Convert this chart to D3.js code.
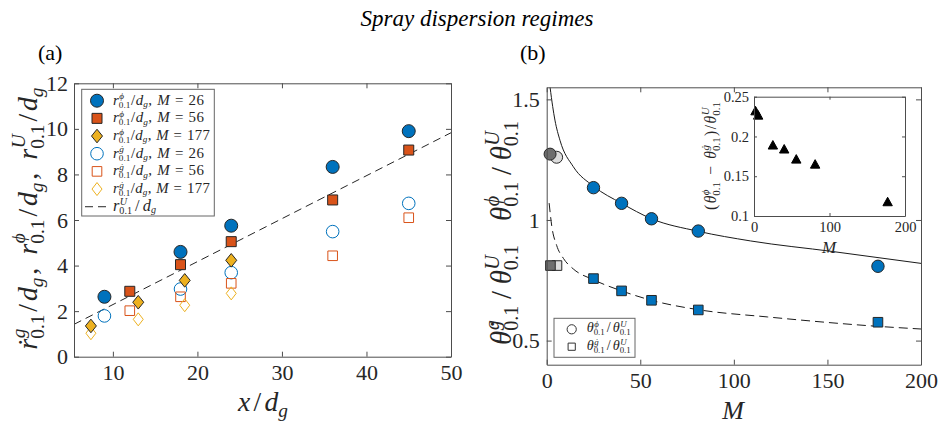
<!DOCTYPE html>
<html>
<head>
<meta charset="utf-8">
<script src="https://cdn.jsdelivr.net/npm/d3@7"></script>
<style>
  body { margin: 0; background: #fff; }
  svg { display: block; }
  text { font-family: "Liberation Serif", "Times New Roman", serif; }
</style>
</head>
<body>
<svg id="chart" width="943" height="425"></svg>
<script>
// ---------- data, panel (a): spreading radius vs x/d_g
const xM26 = [9, 18, 24, 36, 45];
const rPhiM26 = [2.63, 4.6, 5.75, 8.33, 9.9];
const rGM26 = [1.79, 2.97, 3.69, 5.49, 6.73];
const xM56 = [12, 18, 24, 36, 45];
const rPhiM56 = [2.87, 4.04, 5.05, 6.88, 9.07];
const rGM56 = [2.02, 2.63, 3.22, 4.43, 6.1];
const xM177 = [7.4, 13, 18.5, 24];
const rPhiM177 = [1.35, 2.39, 3.35, 4.23];
const rGM177 = [1.03, 1.64, 2.26, 2.78];
const rUx = [5.4, 50];
const rUy = [1.42, 9.83];
const xTicksA = [10, 20, 30, 40, 50];
const yTicksA = [0, 2, 4, 6, 8, 10, 12];

// ---------- data, panel (b): spreading angle vs M
const mB = [25, 40, 56, 81, 177];
const thPhi = [1.134, 1.069, 1.005, 0.954, 0.808];
const thG = [0.757, 0.706, 0.667, 0.627, 0.576];
const mGrayC = [5.3, 1.8];          // light, dark
const thPhiGray = [1.26, 1.273];
const mGrayS = [5.5, 2];
const thGGray = [0.811, 0.811];
const grayFill = ['#dcdcdc', '#6e6e6e'];
const fitPhiM = [1.8, 3.2, 4.4, 7.1, 14.2, 25, 40, 56, 81, 109, 153, 200];
const fitPhiY = [1.55, 1.47, 1.414, 1.33, 1.221, 1.14, 1.069, 1.005, 0.953, 0.913, 0.869, 0.82];
const fitGM = [1.3, 2.7, 5.3, 9, 14.2, 25, 40, 56, 81, 118, 177, 200];
const fitGY = [1.07, 0.975, 0.895, 0.84, 0.797, 0.752, 0.706, 0.667, 0.628, 0.598, 0.559, 0.548];
const xTicksB = [0, 50, 100, 150, 200];
const yTicksB = [0.5, 1, 1.5];

// inset
const mIn = [2, 5.5, 25, 40, 56, 81, 177];
const dIn = [0.232, 0.2266, 0.189, 0.184, 0.1713, 0.165, 0.1177];
const xTicksIn = [0, 100, 200];
const yTicksIn = [0.1, 0.15, 0.2, 0.25];

const BLUE = '#0072BD', ORANGE = '#D95319', YELLOW = '#EDB120';
const AXC = '#4d4d4d', TXT = '#262626', EDGE = '#262626';

const svg = d3.select('#chart');

// ---------- small TeX-like text helper
function parseTex(s) {
  const out = [];
  for (let i = 0; i < s.length; i++) {
    const c = s[i];
    if (c === '^' || c === '_') {
      const j = s.indexOf('}', i);
      out[out.length - 1][c === '^' ? 'sup' : 'sub'] = s.slice(i + 2, j);
      i = j;
    } else if (c === '\u0307') {
      out[out.length - 1].b += c;
    } else out.push({ b: c });
  }
  return out;
}
const isLetter = c => /[A-Za-z\u0370-\u03ff\u0121]/.test(c);

function tex(parent, s, o) {
  const g = parent.append('g')
    .attr('transform', `translate(${o.x},${o.y})` + (o.rotate ? ` rotate(${o.rotate})` : ''));
  const toks = parseTex(s);
  const sr = o.ss || 0.7, up = o.up || 0.42, dn = o.dn || 0.25;
  const build = (size, extra) => {
    g.selectAll('*').remove();
    const t = g.append('text').attr('fill', o.color || TXT);
    const piece = (str, px, py, fs) => {
      if (str === ' ') return fs * 0.27;
      const sp = t.append('tspan').attr('x', px).attr('y', py).attr('font-size', fs)
        .attr('font-style', isLetter(str[0]) ? 'italic' : 'normal').text(str);
      return sp.node().getComputedTextLength();
    };
    const run = (str, px, py, fs) => {
      let w = 0;
      parseTex(str).forEach(tk => { w += piece(tk.b, px + w, py, fs); });
      return w;
    };
    let x = 0;
    toks.forEach((tk, k) => {
      x += piece(tk.b, x, 0, size);
      let w = 0;
      const ss = size * sr;
      if (tk.sup) w = Math.max(w, run(tk.sup, x + 0.5, -size * up, ss));
      if (tk.sub) w = Math.max(w, run(tk.sub, x, size * (tk.sup ? dn : dn - 0.04), ss));
      x += w;
      if (k < toks.length - 1) x += extra;
    });
    return [t, x];
  };
  let size = o.size;
  let [t, w] = build(size, 0);
  if (o.width) {
    // part of the fit by size, the rest by spacing
    size = size * Math.sqrt(o.width / w);
    [t, w] = build(size, 0);
    [t, w] = build(size, (o.width - w) / (toks.length - 1));
  }
  const shift = o.anchor === 'middle' ? -w / 2 : o.anchor === 'end' ? -w : 0;
  t.attr('transform', `translate(${shift},0)`);
  return g;
}

// ---------- axes box with inward ticks on all four sides
function box(g, x, y, o) {
  const [yb, yt] = y.range(), [xl, xr] = x.range();
  const fmt = d => String(d);
  const style = sel => {
    sel.attr('font-family', null);
    sel.selectAll('path,line').attr('stroke', AXC).attr('stroke-width', 1);
    sel.selectAll('text').attr('fill', TXT).attr('font-size', o.fs);
  };
  g.append('g').attr('transform', `translate(0,${yb})`)
    .call(d3.axisBottom(x).tickValues(o.xt).tickFormat(fmt).tickSizeInner(-o.tl).tickSizeOuter(0).tickPadding(o.xpad)).call(style);
  g.append('g').attr('transform', `translate(0,${yt})`)
    .call(d3.axisTop(x).tickValues(o.xt).tickFormat('').tickSizeInner(-o.tl).tickSizeOuter(0)).call(style);
  g.append('g').attr('transform', `translate(${xl},0)`)
    .call(d3.axisLeft(y).tickValues(o.yt).tickFormat(fmt).tickSizeInner(-o.tl).tickSizeOuter(0).tickPadding(o.ypad)).call(style);
  g.append('g').attr('transform', `translate(${xr},0)`)
    .call(d3.axisRight(y).tickValues(o.yt).tickFormat('').tickSizeInner(-o.tl).tickSizeOuter(0)).call(style);
}

// marker shapes
const circ = r => d3.symbol(d3.symbolCircle, Math.PI * r * r)();
const sq = h => `M${-h},${-h}h${2 * h}v${2 * h}h${-2 * h}Z`;
const diam = (w, h) => `M0,${-h}L${w},0L0,${h}L${-w},0Z`;
const tri = (w, h) => `M0,${-h * 0.55}L${w},${h * 0.45}L${-w},${h * 0.45}Z`;

function marks(g, xs, ys, x, y, d, fill, stroke) {
  g.selectAll(null).data(xs).join('path')
    .attr('d', d)
    .attr('transform', (v, i) => `translate(${x(v)},${y(ys[i])})`)
    .attr('fill', fill).attr('stroke', stroke).attr('stroke-width', 1);
}

// ---------- title and panel letters
svg.append('text').attr('x', 477).attr('y', 26).attr('text-anchor', 'middle')
  .attr('font-size', 23).attr('font-style', 'italic').attr('fill', '#000').text('Spray dispersion regimes');
svg.append('text').attr('x', 38).attr('y', 60).attr('font-size', 22).attr('fill', '#000').text('(a)');
svg.append('text').attr('x', 520).attr('y', 60).attr('font-size', 22).attr('fill', '#000').text('(b)');

// ---------- panel (a)
const ax = d3.scaleLinear().domain([5.4, 50]).range([74, 451]);
const ay = d3.scaleLinear().domain([0, 12]).range([356.7, 83.3]);
const ga = svg.append('g');
ga.append('rect').attr('x', 74).attr('y', 83.3).attr('width', 377).attr('height', 273.4).attr('fill', '#fff');

ga.append('path')
  .attr('d', d3.line().x(d => ax(d)).y((d, i) => ay(rUy[i]))(rUx))
  .attr('fill', 'none').attr('stroke', '#262626').attr('stroke-width', 1).attr('stroke-dasharray', '8,5');

marks(ga, xM26, rGM26, ax, ay, circ(6.3), 'none', BLUE);
marks(ga, xM56, rGM56, ax, ay, sq(4.8), 'none', ORANGE);
marks(ga, xM177, rGM177, ax, ay, diam(5, 6.5), 'none', YELLOW);
marks(ga, xM26, rPhiM26, ax, ay, circ(6.5), BLUE, EDGE);
marks(ga, xM56, rPhiM56, ax, ay, sq(5), ORANGE, EDGE);
marks(ga, xM177, rPhiM177, ax, ay, diam(5.5, 6.8), YELLOW, EDGE);

box(ga, ax, ay, { xt: xTicksA, yt: yTicksA, tl: 5, fs: 22, xpad: 8, ypad: 6 });

// legend (a)
const legA = [
  { d: circ(6.5), f: BLUE, s: EDGE, t: 'r^{ϕ}_{0.1}/d_{g}, M = 26', w: 91 },
  { d: sq(5), f: ORANGE, s: EDGE, t: 'r^{ϕ}_{0.1}/d_{g}, M = 56', w: 91 },
  { d: diam(5.5, 6.8), f: YELLOW, s: EDGE, t: 'r^{ϕ}_{0.1}/d_{g}, M = 177', w: 97 },
  { d: circ(6.3), f: 'none', s: BLUE, t: 'r^{ġ}_{0.1}/d_{g}, M = 26', w: 91 },
  { d: sq(4.8), f: 'none', s: ORANGE, t: 'r^{ġ}_{0.1}/d_{g}, M = 56', w: 91 },
  { d: diam(5, 6.5), f: 'none', s: YELLOW, t: 'r^{ġ}_{0.1}/d_{g}, M = 177', w: 97 },
  { line: true, t: 'r^{U}_{0.1}/d_{g}', w: 43 }
];
ga.append('rect').attr('x', 81.7).attr('y', 89.3).attr('width', 132.6).attr('height', 126.7)
  .attr('fill', '#fff').attr('stroke', '#666').attr('stroke-width', 1);
legA.forEach((e, i) => {
  const cy = 100.7 + i * 17.67;
  if (e.line) {
    ga.append('line').attr('x1', 85).attr('x2', 108.5).attr('y1', cy).attr('y2', cy)
      .attr('stroke', '#262626').attr('stroke-dasharray', '8,5');
  } else {
    ga.append('path').attr('d', e.d).attr('transform', `translate(97,${cy})`)
      .attr('fill', e.f).attr('stroke', e.s).attr('stroke-width', 1);
  }
  tex(ga, e.t, { x: 113, y: cy + 4, size: 14, width: e.w, ss: 0.62, up: 0.36, dn: 0.2 });
});

tex(ga, 'r\u0307^{g}_{0.1}/d_{g}, r^{ϕ}_{0.1}/d_{g}, r^{U}_{0.1}/d_{g}',
  { x: 37, y: 218.5, size: 24, rotate: -90, anchor: 'middle', width: 262 });
tex(ga, 'x/d_{g}', { x: 263, y: 411, size: 24, anchor: 'middle', width: 50 });

// ---------- panel (b)
const bx = d3.scaleLinear().domain([0, 200]).range([546.7, 921]);
const by = d3.scaleLinear().domain([0.4, 1.55]).range([364.7, 87.3]);
const gb = svg.append('g');
gb.append('clipPath').attr('id', 'clipB').append('rect')
  .attr('x', 546.7).attr('y', 87.3).attr('width', 374.3).attr('height', 277.4);

const curve = d3.line().curve(d3.curveMonotoneX);
gb.append('path').attr('clip-path', 'url(#clipB)')
  .attr('d', curve(fitPhiM.map((m, i) => [bx(m), by(fitPhiY[i])])))
  .attr('fill', 'none').attr('stroke', '#1a1a1a').attr('stroke-width', 1);
gb.append('path').attr('clip-path', 'url(#clipB)')
  .attr('d', curve(fitGM.map((m, i) => [bx(m), by(fitGY[i])])))
  .attr('fill', 'none').attr('stroke', '#1a1a1a').attr('stroke-width', 1).attr('stroke-dasharray', '9,5');

mGrayC.forEach((m, i) => marks(gb, [m], [thPhiGray[i]], bx, by, circ(6), grayFill[i], EDGE));
mGrayS.forEach((m, i) => marks(gb, [m], [thGGray[i]], bx, by, sq(4.8), grayFill[i], EDGE));
marks(gb, mB, thPhi, bx, by, circ(6.2), BLUE, EDGE);
marks(gb, mB, thG, bx, by, sq(4.8), BLUE, EDGE);

box(gb, bx, by, { xt: xTicksB, yt: yTicksB, tl: 5, fs: 22, xpad: 8, ypad: 7 });

// legend (b)
gb.append('rect').attr('x', 554).attr('y', 318.3).attr('width', 81).attr('height', 39)
  .attr('fill', '#fff').attr('stroke', '#666').attr('stroke-width', 1);
const legB = [
  { d: circ(4.6), t: 'θ^{ϕ}_{0.1}/θ^{U}_{0.1}' },
  { d: sq(3.6), t: 'θ^{ġ}_{0.1}/θ^{U}_{0.1}' }
];
legB.forEach((e, i) => {
  const cy = 329.3 + i * 17.4;
  gb.append('path').attr('d', e.d).attr('transform', `translate(571.7,${cy})`)
    .attr('fill', 'none').attr('stroke', '#333').attr('stroke-width', 1);
  tex(gb, e.t, { x: 586.7, y: cy + 3, size: 13, width: 44, ss: 0.62, up: 0.36, dn: 0.2 });
});

tex(gb, 'θ^{ϕ}_{0.1}/θ^{U}_{0.1}', { x: 511, y: 171, size: 25, rotate: -90, anchor: 'middle', width: 100 });
tex(gb, 'θ\u0307^{g}_{0.1}/θ^{U}_{0.1}', { x: 511, y: 295, size: 25, rotate: -90, anchor: 'middle', width: 100 });
tex(gb, 'M', { x: 733, y: 419, size: 26, anchor: 'middle' });

// ---------- inset
const ix = d3.scaleLinear().domain([0, 200]).range([754, 905]);
const iy = d3.scaleLinear().domain([0.1, 0.25]).range([216, 96.7]);
const gi = svg.append('g');
gi.append('rect').attr('x', 754).attr('y', 96.7).attr('width', 151).attr('height', 119.3).attr('fill', '#fff');
marks(gi, mIn, dIn, ix, iy, tri(4.7, 8.5), '#000', '#000');
box(gi, ix, iy, { xt: xTicksIn, yt: yTicksIn, tl: 3, fs: 14.5, xpad: 6, ypad: 5 });
tex(gi, '(θ^{ϕ}_{0.1} − θ^{ġ}_{0.1})/θ^{U}_{0.1}',
  { x: 716, y: 156, size: 14, rotate: -90, anchor: 'middle', width: 108 });
tex(gi, 'M', { x: 829, y: 253, size: 17, anchor: 'middle' });
</script>
</body>
</html>
